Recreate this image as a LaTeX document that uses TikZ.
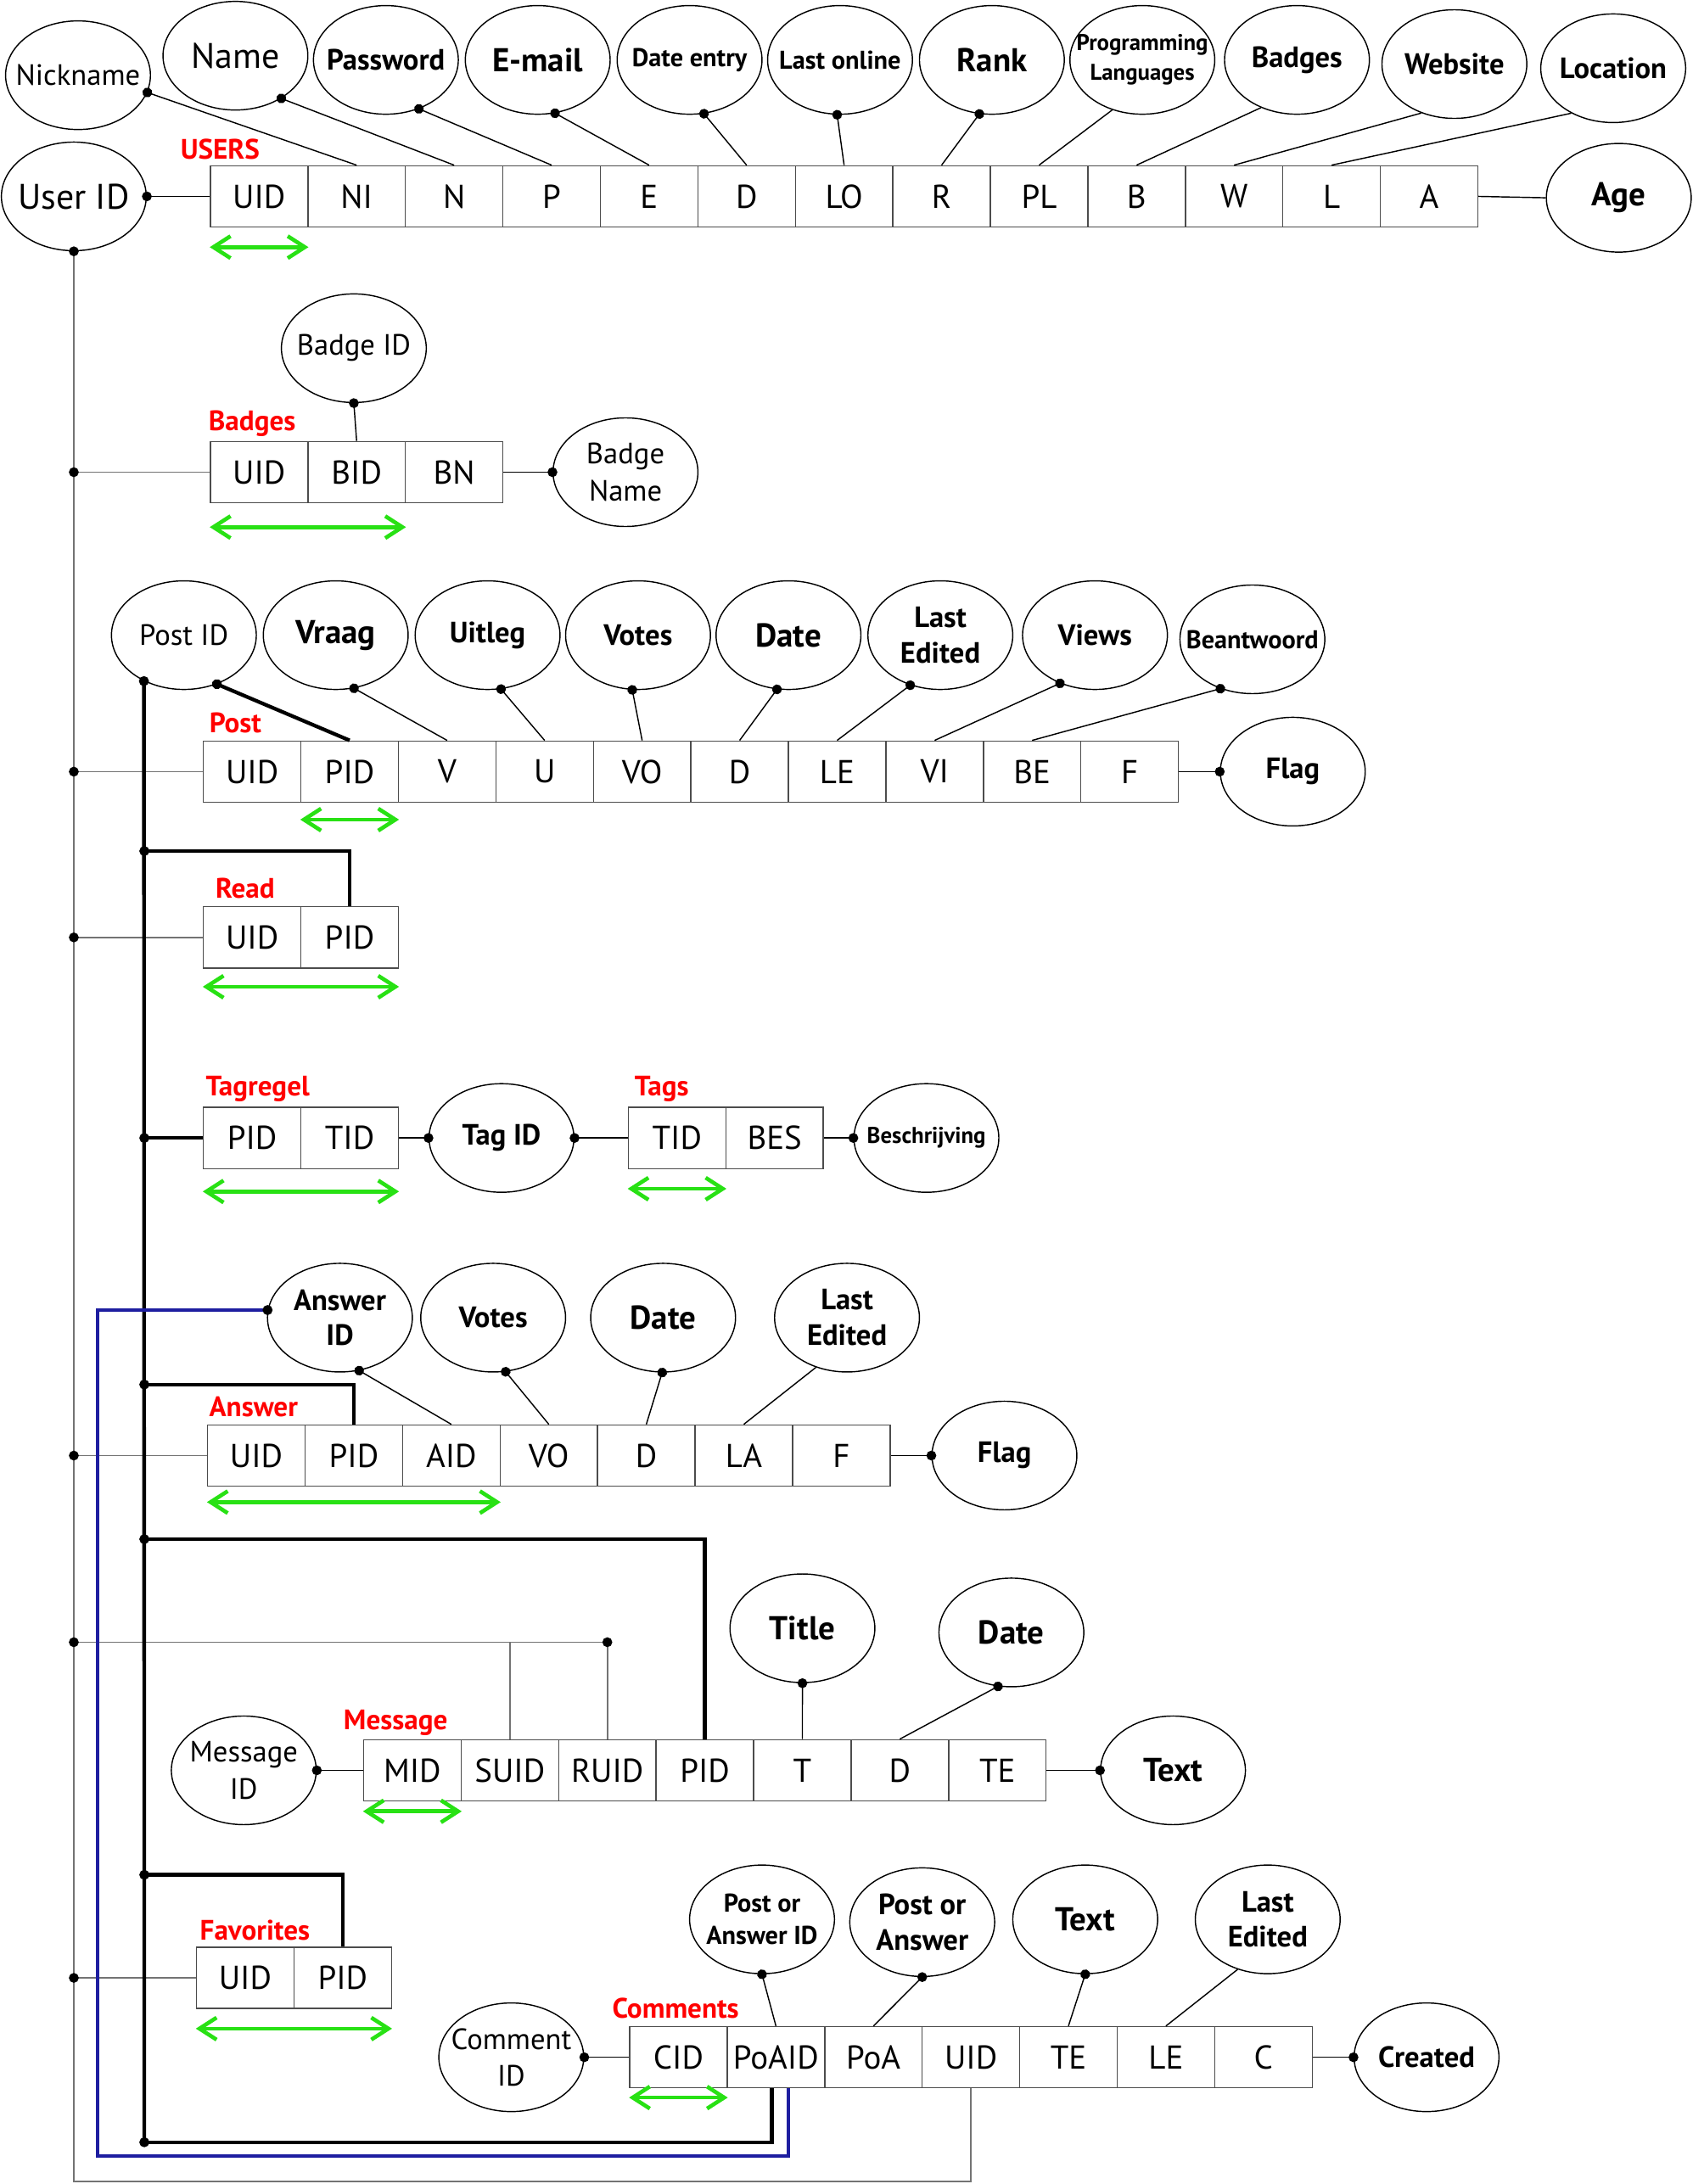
\documentclass[tikz,border=0pt]{standalone}
\usepackage{fontspec}
\setmainfont{PT Sans}
\usetikzlibrary{shapes.geometric,arrows.meta}
\definecolor{keygreen}{RGB}{40,225,20}
\definecolor{aidblue}{RGB}{30,30,160}

\begin{document}
\begin{tikzpicture}[x=0.02cm,y=-0.02cm,node distance=1.4cm,
  >={Straight Barb[length=7pt,width=9pt]},
  cell/.style={draw=black!70,line width=0.5pt,minimum width=1.4cm,minimum height=0.88cm,inner sep=0pt,font=\fontsize{13.5}{15}\selectfont},
  attr/.style={ellipse,draw,line width=0.5pt,minimum width=2.08cm,minimum height=1.56cm,inner xsep=-0.35cm,inner ysep=0pt,align=center},
  rbig/.style={font=\fontsize{14.5}{16}\selectfont},
  rmid/.style={font=\fontsize{12}{15}\selectfont},
  bbig/.style={font=\bfseries\fontsize{13.5}{15}\selectfont},
  bmid/.style={font=\bfseries\fontsize{12}{14.5}\selectfont},
  bsm/.style={font=\bfseries\fontsize{10.5}{13}\selectfont},
  btiny/.style={font=\bfseries\fontsize{9.3}{12}\selectfont},
  tname/.style={text=red,font=\bfseries\fontsize{11.5}{13}\selectfont},
  conn/.style={line width=0.5pt},
  dotline/.style={{Circle[length=4pt,color=black]}-,shorten <=-2pt},
  spine/.style={draw=black!55,line width=0.6pt},
  pidline/.style={line width=1.5pt},
  aidline/.style={draw=aidblue,line width=1.3pt},
  keyarrow/.style={<->,draw=keygreen,line width=1.6pt}]

  \useasboundingbox (0,0) rectangle (1215,1568);

  % USERS
  \node[tname] (lUsers) at (158,107) {USERS};
  \node[cell] (uUID) at (186,141) {UID};
  \node[cell] (uNI) [right of=uUID] {NI};
  \node[cell] (uN) [right of=uNI] {N};
  \node[cell] (uP) [right of=uN] {P};
  \node[cell] (uE) [right of=uP] {E};
  \node[cell] (uD) [right of=uE] {D};
  \node[cell] (uLO) [right of=uD] {LO};
  \node[cell] (uR) [right of=uLO] {R};
  \node[cell] (uPL) [right of=uR] {PL};
  \node[cell] (uB) [right of=uPL] {B};
  \node[cell] (uW) [right of=uB] {W};
  \node[cell] (uL) [right of=uW] {L};
  \node[cell] (uA) [right of=uL] {A};

  \node[attr,rbig] (uid) at (53,141) {User ID};
  \node[attr,rmid] (nick) at (56,54) {Nickname};
  \node[attr,rbig] (name) at (169,40) {Name};
  \node[attr,bmid] (pass) at (277,43) {Password};
  \node[attr,bbig] (mail) at (386,43) {E-mail};
  \node[attr,bsm] (dent) at (495,43) {Date entry};
  \node[attr,bsm] (lonl) at (603,43) {Last online};
  \node[attr,bbig] (rank) at (712,43) {Rank};
  \node[attr,btiny] (prog) at (820,43) {Programming\\Languages};
  \node[attr,bmid] (bdg) at (931,43) {Badges};
  \node[attr,bmid] (web) at (1044,46) {Website};
  \node[attr,bmid] (loc) at (1158,49) {Location};
  \node[attr,bbig] (age) at (1162,142) {Age};

  \path[conn]
  (nick.-14) edge[dotline] (uNI.north)
  (name.-43) edge[dotline] (uN.north)
  (pass.-56) edge[dotline] (uP.north)
  (mail.-72) edge[dotline] (uE.north)
  (dent.-75) edge[dotline] (uD.north)
  (lonl.-93) edge[dotline] (uLO.north)
  (rank.-103) edge[dotline] (uR.north)
  (prog.-121) edge (uPL.north)
  (bdg.-127) edge (uB.north)
  (web.-124) edge (uW.north)
  (loc.-133) edge (uL.north)
  (uid.east) edge[dotline] (uUID.west)
  (uA.east) edge (age.west)
  ;

  % Badges
  \node[tname] (lBadges) at (181,304) {Badges};
  \node[cell] (bUID) at (186,339) {UID};
  \node[cell] (bBID) [right of=bUID] {BID};
  \node[cell] (bBN) [right of=bBID] {BN};
  \node[attr,rmid] (bid) at (254,250) {Badge ID};
  \node[attr,rmid] (bnm) at (449,339) {Badge\\Name};

  \path[conn]
  (bid.south) edge[dotline] (bBID.north)
  (bnm.west) edge[dotline] (bBN.east)
  ;

  % Post
  \node[tname] (lPost) at (169,519) {Post};
  \node[cell] (pUID) at (181,554) {UID};
  \node[cell] (pPID) [right of=pUID] {PID};
  \node[cell] (pV) [right of=pPID] {V};
  \node[cell] (pU) [right of=pV] {U};
  \node[cell] (pVO) [right of=pU] {VO};
  \node[cell] (pD) [right of=pVO] {D};
  \node[cell] (pLE) [right of=pD] {LE};
  \node[cell] (pVI) [right of=pLE] {VI};
  \node[cell] (pBE) [right of=pVI] {BE};
  \node[cell] (pF) [right of=pBE] {F};

  \node[attr,rmid] (postid) at (132,456) {Post ID};
  \node[attr,bbig] (vraag) at (241,456) {Vraag};
  \node[attr,bmid] (uitleg) at (350,456) {Uitleg};
  \node[attr,bmid] (votes) at (458,456) {Votes};
  \node[attr,bbig] (pdate) at (566,456) {Date};
  \node[attr,bmid] (pled) at (675,456) {Last\\Edited};
  \node[attr,bmid] (views) at (786,456) {Views};
  \node[attr,bsm] (beant) at (899,459) {Beantwoord};
  \node[attr,bmid] (pflag) at (928,554) {Flag};

  \path[conn]
  (vraag.-71) edge[dotline] (pV.north)
  (uitleg.-76) edge[dotline] (pU.north)
  (votes.-96) edge[dotline] (pVO.north)
  (pdate.-102) edge[dotline] (pD.north)
  (pled.-121) edge[dotline] (pLE.north)
  (views.-126) edge[dotline] (pVI.north)
  (beant.-123) edge[dotline] (pBE.north)
  (pflag.west) edge[dotline] (pF.east)
  ;

  % Read
  \node[tname] (lRead) at (176,638) {Read};
  \node[cell] (rUID) at (181,673) {UID};
  \node[cell] (rPID) [right of=rUID] {PID};

  % Tagregel and Tags
  \node[tname] (lTagregel) at (185,782) {Tagregel};
  \node[cell] (trPID) at (181,817) {PID};
  \node[cell] (trTID) [right of=trPID] {TID};
  \node[attr,bmid] (tagid) at (360,817) {Tag ID};
  \node[tname] (lTags) at (475,782) {Tags};
  \node[cell] (tTID) at (486,817) {TID};
  \node[cell] (tBES) [right of=tTID] {BES};
  \node[attr,btiny] (besch) at (665,817) {Beschrijving};

  \path[conn]
  (tagid.west) edge[dotline] (trTID.east)
  (tagid.east) edge[dotline] (tTID.west)
  (besch.west) edge[dotline] (tBES.east)
  ;

  % Answer
  \node[tname] (lAnswer) at (182,1010) {Answer};
  \node[cell] (aUID) at (184,1045) {UID};
  \node[cell] (aPID) [right of=aUID] {PID};
  \node[cell] (aAID) [right of=aPID] {AID};
  \node[cell] (aVO) [right of=aAID] {VO};
  \node[cell] (aD) [right of=aVO] {D};
  \node[cell] (aLA) [right of=aD] {LA};
  \node[cell] (aF) [right of=aLA] {F};

  \node[attr,bmid] (aid) at (244,946) {Answer\\ID};
  \node[attr,bmid] (avotes) at (354,946) {Votes};
  \node[attr,bbig] (adate) at (476,946) {Date};
  \node[attr,bmid] (aled) at (608,946) {Last\\Edited};
  \node[attr,bmid] (aflag) at (721,1045) {Flag};

  \path[conn]
  (aid.-70) edge[dotline] (aAID.north)
  (avotes.-77) edge[dotline] (aVO.north)
  (adate.-91) edge[dotline] (aD.north)
  (aled.-122) edge (aLA.north)
  (aflag.west) edge[dotline] (aF.east)
  ;

  % Message
  \node[tname] (lMessage) at (284,1237) {Message};
  \node[cell] (mMID) at (296,1271) {MID};
  \node[cell] (mSUID) [right of=mMID] {SUID};
  \node[cell] (mRUID) [right of=mSUID] {RUID};
  \node[cell] (mPID) [right of=mRUID] {PID};
  \node[cell] (mT) [right of=mPID] {T};
  \node[cell] (mD) [right of=mT] {D};
  \node[cell] (mTE) [right of=mD] {TE};

  \node[attr,rmid] (msgid) at (175,1271) {Message\\ID};
  \node[attr,bbig] (title) at (576,1169) {Title};
  \node[attr,bbig] (mdate) at (726,1172) {Date};
  \node[attr,bbig] (mtext) at (842,1271) {Text};

  \path[conn]
  (msgid.east) edge[dotline] (mMID.west)
  (title.-90) edge[dotline] (mT.north)
  (mdate.-104) edge[dotline] (mD.north)
  (mtext.west) edge[dotline] (mTE.east)
  ;

  % Favorites
  \node[tname] (lFav) at (183,1386) {Favorites};
  \node[cell] (fUID) at (176,1420) {UID};
  \node[cell] (fPID) [right of=fUID] {PID};

  % Comments
  \node[tname] (lComments) at (485,1442) {Comments};
  \node[cell] (cCID) at (487,1477) {CID};
  \node[cell] (cPoAID) [right of=cCID] {PoAID};
  \node[cell] (cPoA) [right of=cPoAID] {PoA};
  \node[cell] (cUID) [right of=cPoA] {UID};
  \node[cell] (cTE) [right of=cUID] {TE};
  \node[cell] (cLE) [right of=cTE] {LE};
  \node[cell] (cC) [right of=cLE] {C};

  \node[attr,rmid] (comid) at (367,1477) {Comment\\ID};
  \node[attr,bsm] (poaid) at (547,1378) {Post or\\Answer ID};
  \node[attr,bmid] (poa) at (662,1380) {Post or\\Answer};
  \node[attr,bbig] (ctext) at (779,1378) {Text};
  \node[attr,bmid] (cled) at (910,1378) {Last\\Edited};
  \node[attr,bmid] (created) at (1024,1477) {Created};

  \path[conn]
  (comid.east) edge[dotline] (cCID.west)
  (poaid.-90) edge[dotline] (cPoAID.north)
  (poa.-90) edge[dotline] (cPoA.north)
  (ctext.-90) edge[dotline] (cTE.north)
  (cled.-121) edge (cLE.north)
  (created.west) edge[dotline] (cC.east)
  ;

  % user id spine
  \coordinate (ujBadge) at (53,339);
  \coordinate (ujPost) at (53,554);
  \coordinate (ujRead) at (53,673);
  \coordinate (ujAns) at (53,1045);
  \coordinate (ujMsg) at (53,1179);
  \coordinate (ujFav) at (53,1420);
  \coordinate (ujEnd) at (53,1566);

  \draw[spine,dotline] (uid.south) -- (ujEnd) -| (cUID.south);
  \path[spine]
  (ujBadge) edge[dotline] (bUID.west)
  (ujPost) edge[dotline] (pUID.west)
  (ujRead) edge[dotline] (rUID.west)
  (ujAns) edge[dotline] (aUID.west)
  (ujMsg) edge[dotline] (mRUID.north |- ujMsg)
  (mRUID.north |- ujMsg) edge[dotline] (mRUID.north)
  (mSUID.north |- ujMsg) edge (mSUID.north)
  (ujFav) edge[dotline] (fUID.west)
  ;

  % post id spine
  \coordinate (pjRead) at (103.6,611);
  \coordinate (pjTag) at (103.6,817);
  \coordinate (pjAns) at (103.6,994);
  \coordinate (pjMsg) at (103.6,1105);
  \coordinate (pjFav) at (103.6,1346);
  \coordinate (pjCom) at (103.6,1538);

  \draw[pidline,dotline] (postid.-56) -- (pPID.north);
  \draw[pidline,dotline] (postid.-131) -- (pjCom);
  \draw[pidline,dotline] (pjRead) -| (rPID.north);
  \draw[pidline,dotline] (pjTag) -- (trPID.west);
  \draw[pidline,dotline] (pjAns) -| (aPID.north);
  \draw[pidline,dotline] (pjMsg) -| (mPID.north);
  \draw[pidline,dotline] (pjFav) -| (fPID.north);
  \draw[pidline,dotline] (pjCom) -| ([xshift=-0.06cm]cPoAID.south);

  % answer id link
  \coordinate (aj) at (70,1548);
  \draw[aidline,dotline] (aid.174) -| (aj) -| ([xshift=0.18cm]cPoAID.south);

  % keys
  \draw[keyarrow] ([yshift=-0.28cm]uUID.south west) -- ([yshift=-0.28cm]uUID.south east);
  \draw[keyarrow] ([yshift=-0.34cm]bUID.south west) -- ([yshift=-0.34cm]bBID.south east);
  \draw[keyarrow] ([yshift=-0.24cm]pPID.south west) -- ([yshift=-0.24cm]pPID.south east);
  \draw[keyarrow] ([yshift=-0.26cm]rUID.south west) -- ([yshift=-0.26cm]rPID.south east);
  \draw[keyarrow] ([yshift=-0.32cm]trPID.south west) -- ([yshift=-0.32cm]trTID.south east);
  \draw[keyarrow] ([yshift=-0.28cm]tTID.south west) -- ([yshift=-0.28cm]tTID.south east);
  \draw[keyarrow] ([yshift=-0.22cm]aUID.south west) -- ([yshift=-0.22cm]aAID.south east);
  \draw[keyarrow] ([yshift=-0.14cm]mMID.south west) -- ([yshift=-0.14cm]mMID.south east);
  \draw[keyarrow] ([yshift=-0.28cm]fUID.south west) -- ([yshift=-0.28cm]fPID.south east);
  \draw[keyarrow] ([yshift=-0.13cm]cCID.south west) -- ([yshift=-0.13cm]cCID.south east);

\end{tikzpicture}
\end{document}
